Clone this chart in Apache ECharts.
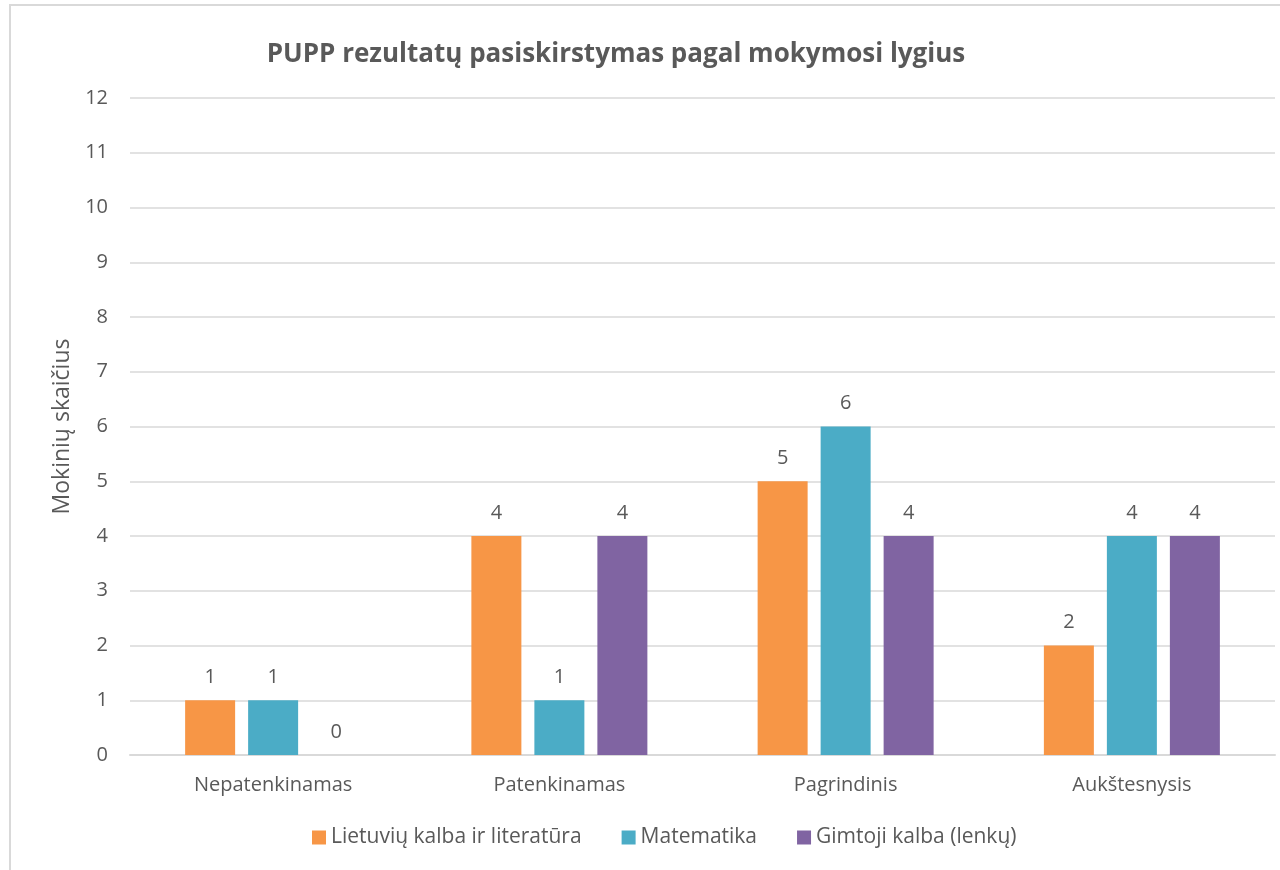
<!DOCTYPE html>
<html>
<head>
<meta charset="utf-8">
<script src="https://cdn.jsdelivr.net/npm/echarts@6/dist/echarts.min.js"></script>
<style>
  html, body { margin: 0; padding: 0; background: #fff; }
  #chart { width: 1280px; height: 870px; }
</style>
</head>
<body>
<div id="chart"></div>
<script>
const categories = ["Nepatenkinamas", "Patenkinamas", "Pagrindinis", "Aukštesnysis"];
const seriesNames = ["Lietuvių kalba ir literatūra", "Matematika", "Gimtoji kalba (lenkų)"];
const lietuviu = [1, 4, 5, 2];
const matematika = [1, 1, 6, 4];
const gimtoji = [0, 4, 4, 4];
const yTicks = [0, 1, 2, 3, 4, 5, 6, 7, 8, 9, 10, 11, 12];

const colors = ["#F79646", "#4BACC6", "#8064A2"];
const font = "'Open Sans', 'Noto Sans', sans-serif";
const textColor = "#595959";

const chart = echarts.init(document.getElementById("chart"));

function barSeries(name, data, color) {
  return {
    name,
    type: "bar",
    data,
    barWidth: 50,
    barGap: "26%",
    itemStyle: { color },
    label: {
      show: true,
      position: "top",
      distance: 13,
      color: textColor,
      fontFamily: font,
      fontSize: 20,
    },
  };
}

chart.setOption({
  animation: false,
  color: colors,
  title: {
    text: "PUPP rezultatų pasiskirstymas pagal mokymosi lygius",
    left: 611,
    textAlign: "center",
    top: 37,
    textStyle: { fontFamily: font, fontSize: 26, fontWeight: "bold", color: textColor },
  },
  graphic: [
    {
      type: "rect",
      shape: { x: 10, y: 5, width: 1290, height: 900 },
      style: { fill: "none", stroke: "#d9d9d9", lineWidth: 2 },
      silent: true,
    },
  ],
  legend: {
    bottom: 17,
    left: 307,
    itemWidth: 14,
    itemHeight: 14,
    itemGap: 40,
    icon: "rect",
    textStyle: { fontFamily: font, fontSize: 21, color: textColor },
    data: seriesNames,
  },
  grid: { left: 130, right: 5, top: 98, bottom: 115 },
  xAxis: {
    type: "category",
    data: categories,
    axisLine: { lineStyle: { color: "#d9d9d9", width: 2 } },
    axisTick: { show: false },
    axisLabel: { color: textColor, fontFamily: font, fontSize: 20, margin: 20 },
  },
  yAxis: {
    type: "value",
    min: yTicks[0],
    max: yTicks[yTicks.length - 1],
    interval: 1,
    name: "Mokinių skaičius",
    nameLocation: "middle",
    nameGap: 56,
    nameTextStyle: { fontFamily: font, fontSize: 23, color: textColor },
    axisLine: { show: false },
    axisTick: { show: false },
    axisLabel: { color: textColor, fontFamily: font, fontSize: 20, margin: 22 },
    splitLine: { lineStyle: { color: "#d9d9d9", width: 1.5 } },
  },
  series: [
    barSeries(seriesNames[0], lietuviu, colors[0]),
    barSeries(seriesNames[1], matematika, colors[1]),
    barSeries(seriesNames[2], gimtoji, colors[2]),
  ],
});
</script>
</body>
</html>
